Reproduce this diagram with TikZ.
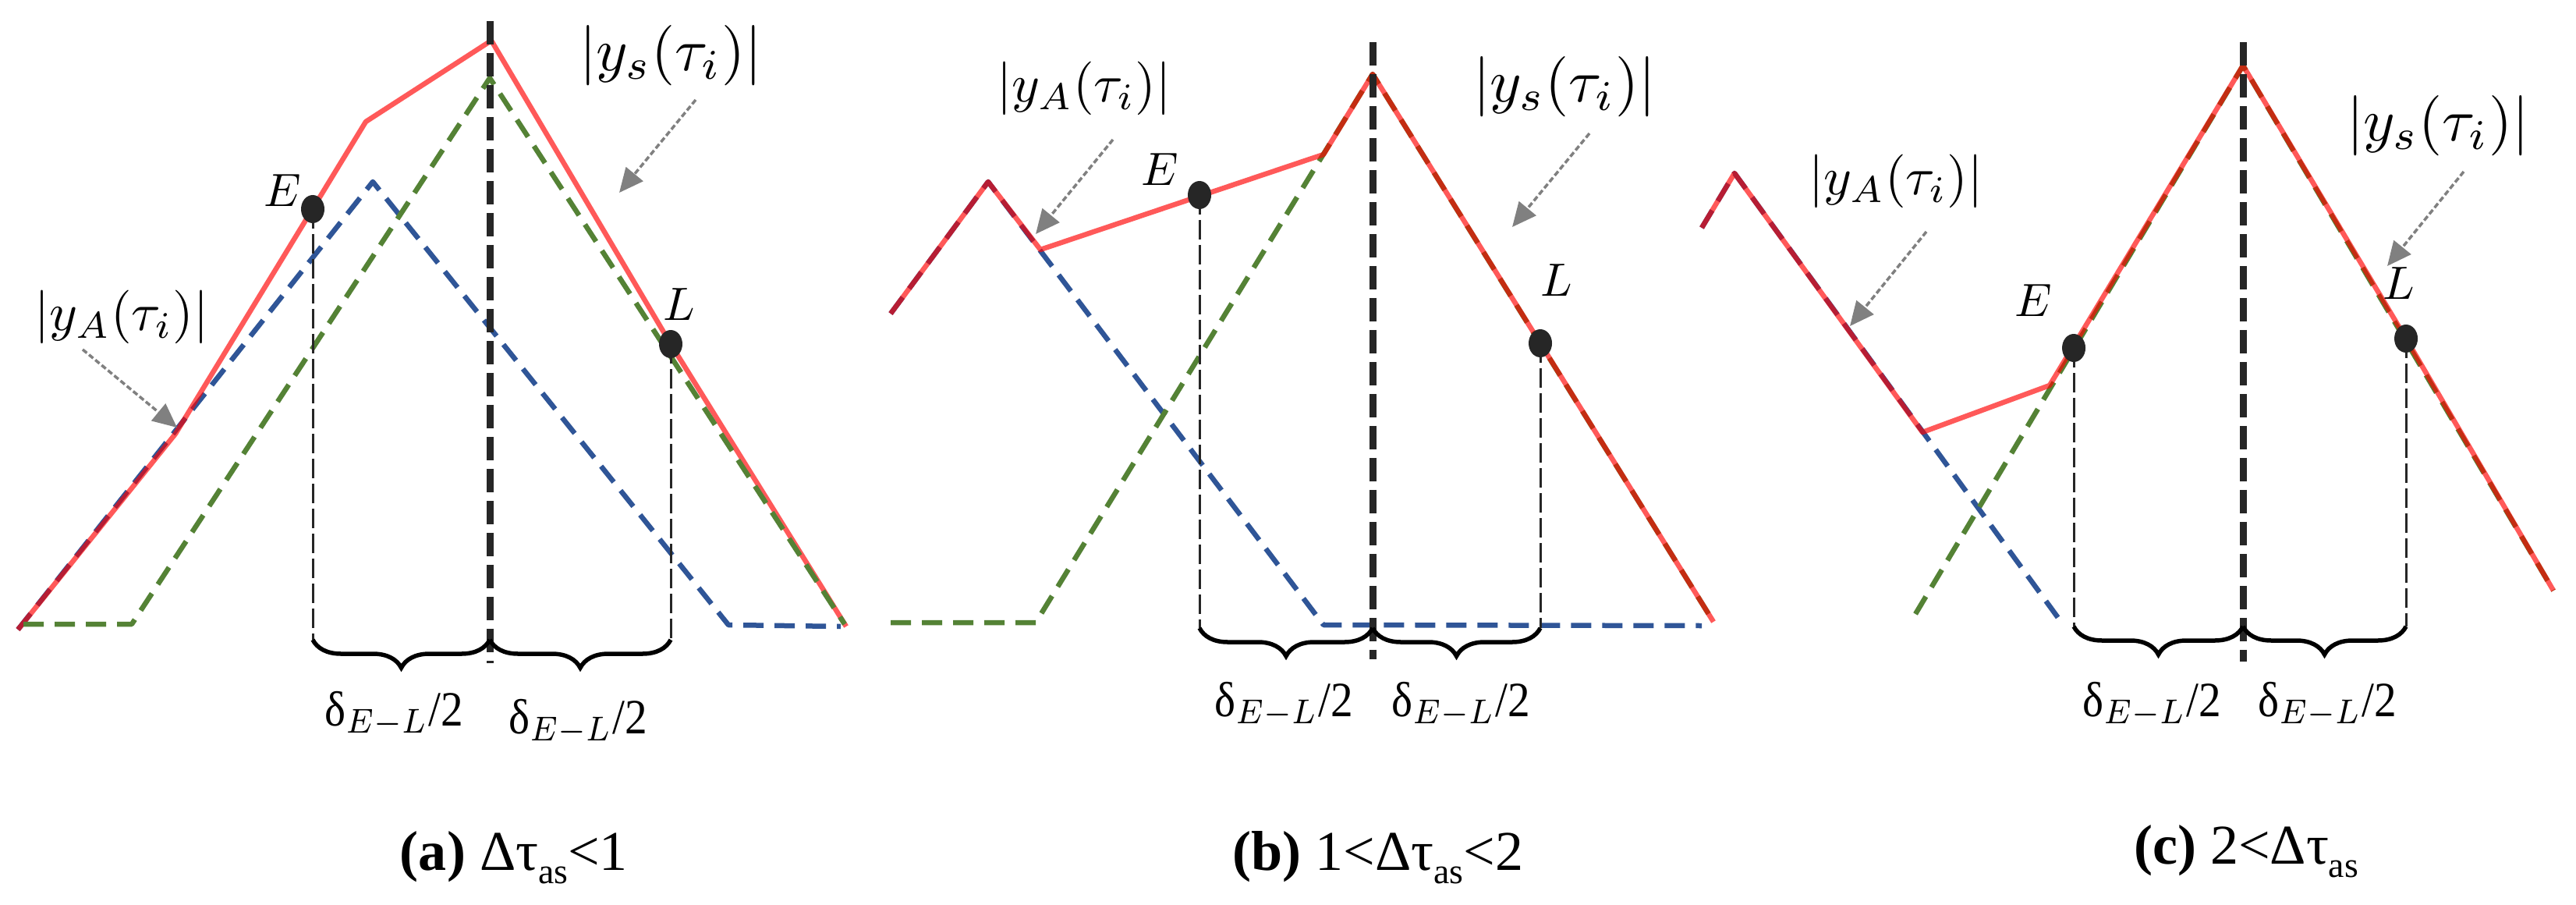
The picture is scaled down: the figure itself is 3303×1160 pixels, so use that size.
\documentclass[tikz,border=0pt]{standalone}
\usepackage{graphicx}
\usepackage{fontspec}
\setmainfont{Liberation Serif}
\newfontfamily\capfont{Liberation Serif}
\usetikzlibrary{arrows.meta,decorations.pathreplacing,shapes.geometric}
\definecolor{cBlue}{RGB}{47,85,151}
\definecolor{cGreen}{RGB}{84,130,53}
\definecolor{cDark}{RGB}{38,38,38}
\definecolor{cGray}{RGB}{128,128,128}
\tikzset{
  sigred/.style={draw=red, draw opacity=0.65, line width=0.65mm, line join=round},
  sigblue/.style={draw=cBlue, line width=0.65mm, dash pattern=on 2.6mm off 1.4mm, line join=round},
  siggreen/.style={draw=cGreen, line width=0.65mm, dash pattern=on 2.6mm off 1.4mm, line join=round},
  axisln/.style={draw=cDark, line width=0.9mm, dash pattern=on 3mm off 1.1mm},
  dropln/.style={draw=cDark, line width=0.3mm, dash pattern=on 2.5mm off 0.7mm},
  ptdot/.style={ellipse, fill=cDark, minimum width=3mm, minimum height=3.6mm, inner sep=0pt},
  ptlabel/.style={inner sep=0pt},
  siglab/.style={inner sep=0pt},
  callout/.style={draw=cGray, line width=0.35mm, dash pattern=on 0.7mm off 0.35mm,
    -{Triangle[length=3.1mm,width=2.8mm,fill=cGray]}},
  halfbrace/.style={draw=black, line width=0.55mm, decorate,
    decoration={brace, mirror, amplitude=3.6mm}},
  deltalab/.style={inner sep=0pt, anchor=base, font=\capfont},
  capt/.style={font=\capfont\fontsize{20.5}{20.5}\selectfont, inner sep=0pt, anchor=base},
}
\newcommand{\subas}{\raisebox{-0.24em}{\fontsize{13}{13}\selectfont as}}
\newcommand{\ysig}{\scalebox{2.2}{$|y_s(\tau_i)|$}}
\newcommand{\yasig}{\scalebox{1.95}{$|y_A(\tau_i)|$}}
\newcommand{\ptE}{\scalebox{1.7}{$E$}}
\newcommand{\ptL}{\scalebox{1.7}{$L$}}
\newcommand{\dhalf}{\scalebox{1.63}[1.8]{δ$_{E-L}$/2}}
\begin{document}
\begin{tikzpicture}[x=0.1mm,y=-0.1mm]
\path[use as bounding box, fill=white] (0,0) rectangle (3303,1160);

% ================= panel (a) =================
\draw[sigblue] (23,807) -- (478,233) -- (934,801) -- (1078,803);
\draw[sigred] (23,807) -- (225,556) -- (469,156) -- (630,52) -- (860,441) -- (1085,803);
\draw[siggreen] (30,800) -- (169,800) -- (628,100) -- (1083,800);
\coordinate (Ea) at (401,268);
\coordinate (La) at (860,441);
\coordinate (Ba) at (401,820);
\coordinate (Ma) at (628,820);
\coordinate (Ca) at (860,820);
\draw[dropln] (Ea) -- (Ba);
\draw[dropln] (La) -- (Ca);
\draw[axisln] (628,27) -- (628,850);
\draw[halfbrace] (Ba) -- (Ma);
\draw[halfbrace] (Ma) -- (Ca);
\node[ptdot] (EaDot) at (Ea) {};
\node[ptdot] (LaDot) at (La) {};
\node[ptlabel] (EaLab) at (362,244) {\ptE};
\node[ptlabel] (LaLab) at (871,390) {\ptL};
\node[siglab] (ysa) at (860,71) {\ysig};
\node[siglab] (yaa) at (156,406) {\yasig};
\coordinate (ysaS) at (892,128);
\coordinate (ysaT) at (794,247);
\coordinate (yaaS) at (106,448);
\coordinate (yaaT) at (227,548);
\draw[callout] (ysaS) -- (ysaT);
\draw[callout] (yaaS) -- (yaaT);
\node[deltalab] (da1) at (505,930) {\dhalf};
\node[deltalab] (da2) at (741,940) {\dhalf};
\node[capt] (capa) at (659,1115) {\textbf{(a)} Δτ\subas<1};

% ================= panel (b) =================
\draw[sigblue] (1142,402) -- (1267,233) -- (1697,801) -- (2182,802);
\draw[siggreen] (1142,798) -- (1328,798) -- (1760,95) -- (2197,797);
\draw[sigred] (1142,402) -- (1267,233) -- (1334,320) -- (1697,198) -- (1760,95) -- (1975,440) -- (2197,797);
\coordinate (Eb) at (1538,250);
\coordinate (Lb) at (1975,440);
\coordinate (Bb) at (1538,805);
\coordinate (Mb) at (1760,805);
\coordinate (Cb) at (1975,805);
\draw[dropln] (Eb) -- (Bb);
\draw[dropln] (Lb) -- (Cb);
\draw[axisln] (1760,54) -- (1760,845);
\draw[halfbrace] (Bb) -- (Mb);
\draw[halfbrace] (Mb) -- (Cb);
\node[ptdot] (EbDot) at (Eb) {};
\node[ptdot] (LbDot) at (Lb) {};
\node[ptlabel] (EbLab) at (1487,217) {\ptE};
\node[ptlabel] (LbLab) at (1996,359) {\ptL};
\node[siglab] (ysb) at (2006,111) {\ysig};
\node[siglab] (yab) at (1390,113) {\yasig};
\coordinate (ysbS) at (2038,171);
\coordinate (ysbT) at (1939,291);
\coordinate (yabS) at (1427,179);
\coordinate (yabT) at (1328,300);
\draw[callout] (ysbS) -- (ysbT);
\draw[callout] (yabS) -- (yabT);
\node[deltalab] (db1) at (1646,918) {\dhalf};
\node[deltalab] (db2) at (1873,918) {\dhalf};
\node[capt] (capb) at (1767,1115) {\textbf{(b)} 1<Δτ\subas<2};

% ================= panel (c) =================
\draw[sigblue] (2182,292) -- (2224,222) -- (2639,792);
\draw[siggreen] (2456,787) -- (2876,84) -- (3274,757);
\draw[sigred] (2182,292) -- (2224,222) -- (2465,554) -- (2628,494) -- (2876,84) -- (3085,434) -- (3274,757);
\coordinate (Ec) at (2659,446);
\coordinate (Lc) at (3085,434);
\coordinate (Bc) at (2659,803);
\coordinate (Mc) at (2876,803);
\coordinate (Cc) at (3085,803);
\draw[dropln] (Ec) -- (Bc);
\draw[dropln] (Lc) -- (Cc);
\draw[axisln] (2876,54) -- (2876,848);
\draw[halfbrace] (Bc) -- (Mc);
\draw[halfbrace] (Mc) -- (Cc);
\node[ptdot] (EcDot) at (Ec) {};
\node[ptdot] (LcDot) at (Lc) {};
\node[ptlabel] (EcLab) at (2607,385) {\ptE};
\node[ptlabel] (LcLab) at (3076,363) {\ptL};
\node[siglab] (ysc) at (3126,161) {\ysig};
\node[siglab] (yac) at (2431,232) {\yasig};
\coordinate (yscS) at (3159,220);
\coordinate (yscT) at (3061,341);
\coordinate (yacS) at (2470,297);
\coordinate (yacT) at (2372,418);
\draw[callout] (yscS) -- (yscT);
\draw[callout] (yacS) -- (yacT);
\node[deltalab] (dc1) at (2759,918) {\dhalf};
\node[deltalab] (dc2) at (2984,918) {\dhalf};
\node[capt] (capc) at (2880,1107) {\textbf{(c)} 2<Δτ\subas};
\end{tikzpicture}
\end{document}
